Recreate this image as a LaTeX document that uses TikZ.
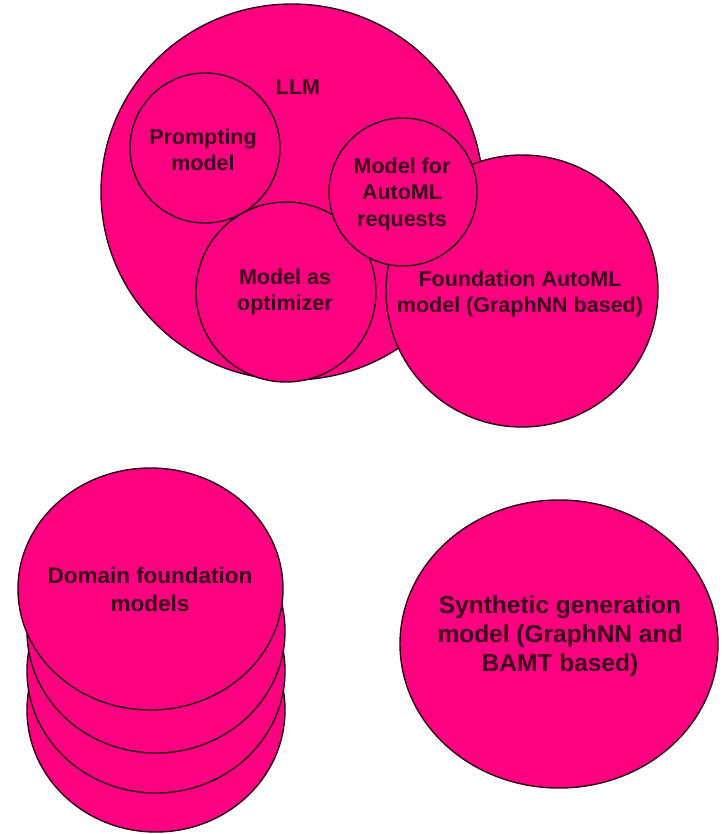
\documentclass[tikz,border=0pt]{standalone}
\usepackage{fontspec}
\setmainfont{Liberation Sans}
\definecolor{pinkfill}{HTML}{FF0080}
\definecolor{edgecol}{HTML}{2A0014}
\definecolor{txtcol}{HTML}{3A001C}
\begin{document}
\begin{tikzpicture}[x=1pt,y=-1pt,
  blob/.style={fill=pinkfill,draw=edgecol,line width=1.4pt},
  lbl/.style={text=txtcol,align=center,font=\bfseries\fontsize{21.5}{26.5}\selectfont,inner sep=0pt},
  lbldom/.style={lbl,font=\bfseries\fontsize{22.5}{28}\selectfont},
  lblsyn/.style={lbl,font=\bfseries\fontsize{24.5}{29}\selectfont}]
\useasboundingbox (0,0) rectangle (722,834);
\fill[white] (0,0) rectangle (722,834);
% top group
\path[blob] (292,192) ellipse [x radius=191,y radius=188];
\path[blob] (522,291) circle [radius=136];
\path[blob] (205,148) circle [radius=75];
\path[blob] (286,292) circle [radius=90];
\path[blob] (403,192) circle [radius=74];
\node[lbl] (llm) at (298,87) {LLM};
\node[lbl] (prompt) at (203,150) {Prompting\\model};
\node[lbl] (automl) at (402,194) {Model for\\AutoML\\requests};
\node[lbl] (optim) at (285,292) {Model as\\optimizer};
\node[lbl] (found) at (520,294) {Foundation AutoML\\model (GraphNN based)};
% domain stack
\path[blob] (156,710) ellipse [x radius=129,y radius=122];
\path[blob] (156,671) ellipse [x radius=129,y radius=122];
\path[blob] (156,631) ellipse [x radius=129,y radius=122];
\path[blob] (150.5,589) ellipse [x radius=132.5,y radius=121];
\node[lbldom] (domain) at (150,589) {Domain foundation\\models};
% synthetic
\path[blob] (559,644) ellipse [x radius=159,y radius=144];
\node[lblsyn] (synth) at (560,636) {Synthetic generation\\model (GraphNN and\\BAMT based)};
\end{tikzpicture}
\end{document}
